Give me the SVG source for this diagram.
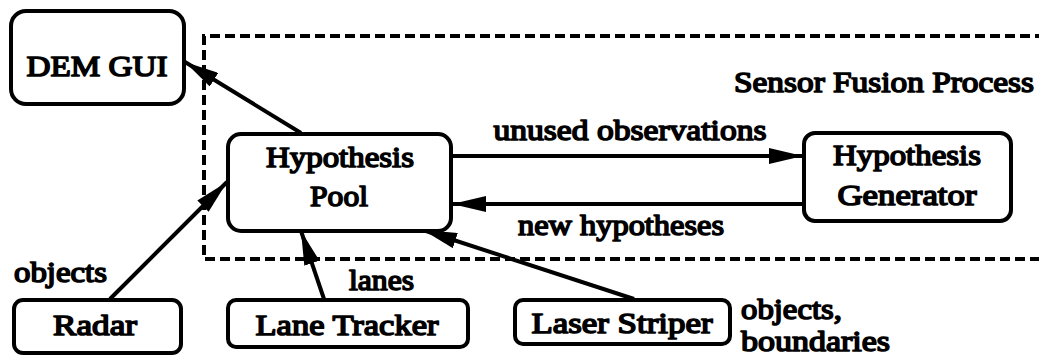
<svg xmlns="http://www.w3.org/2000/svg" width="1039" height="356" viewBox="0 0 1039 356">
<style>
.box{fill:#fff;stroke:#000;stroke-width:4}
text{font-family:'Liberation Serif','Times New Roman',Times,serif;font-weight:normal;font-size:30px;fill:#000;stroke:#000;stroke-width:1.6px;stroke-linejoin:round}
.c{text-anchor:middle}
.ln{stroke:#000;stroke-width:4;fill:none}
</style>
<defs>
<marker id="ah" viewBox="0 0 34 16" refX="34" refY="8" markerWidth="34" markerHeight="16" markerUnits="userSpaceOnUse" orient="auto">
<path d="M0,0 L34,8 L0,16 Z" fill="#000"/>
</marker>
</defs>
<rect x="0" y="0" width="1039" height="356" fill="#fff"/>
<g id="sensor-fusion-process">
<path d="M1045,36 H204 V259 H1045" fill="none" stroke="#000" stroke-width="4" stroke-dasharray="10,5"/>
<text x="1034" y="92" text-anchor="end" textLength="300" lengthAdjust="spacingAndGlyphs">Sensor Fusion Process</text>
</g>
<g id="connectors">
<line class="ln" x1="301" y1="133" x2="185" y2="62" marker-end="url(#ah)"/>
<line class="ln" x1="445" y1="156" x2="803" y2="156" marker-end="url(#ah)"/>
<line class="ln" x1="803" y1="204" x2="452" y2="204" marker-end="url(#ah)"/>
<line class="ln" x1="110" y1="299" x2="227" y2="182" marker-end="url(#ah)"/>
<line class="ln" x1="324" y1="299" x2="301" y2="231" marker-end="url(#ah)"/>
<line class="ln" x1="634" y1="299" x2="423" y2="230" marker-end="url(#ah)"/>
<text class="c" x="630" y="140" textLength="273" lengthAdjust="spacingAndGlyphs">unused observations</text>
<text class="c" x="621" y="235" textLength="206" lengthAdjust="spacingAndGlyphs">new hypotheses</text>
<text x="14" y="282" textLength="93" lengthAdjust="spacingAndGlyphs">objects</text>
<text x="349" y="290" textLength="65" lengthAdjust="spacingAndGlyphs">lanes</text>
<text x="741" y="319" textLength="101" lengthAdjust="spacingAndGlyphs">objects,</text>
<text x="741" y="351" textLength="149" lengthAdjust="spacingAndGlyphs">boundaries</text>
</g>
<g id="dem-gui">
<rect class="box" x="11" y="11" width="173" height="93" rx="15"/>
<text class="c" x="97" y="76" textLength="141" lengthAdjust="spacingAndGlyphs">DEM GUI</text>
</g>
<g id="hypothesis-pool">
<rect class="box" x="228" y="134" width="223" height="97" rx="13"/>
<text class="c" x="340" y="167" textLength="148" lengthAdjust="spacingAndGlyphs">Hypothesis</text>
<text class="c" x="339" y="206" textLength="58" lengthAdjust="spacingAndGlyphs">Pool</text>
</g>
<g id="hypothesis-generator">
<rect class="box" x="804" y="133" width="207" height="88" rx="11"/>
<text class="c" x="907" y="165" textLength="148" lengthAdjust="spacingAndGlyphs">Hypothesis</text>
<text class="c" x="907" y="205" textLength="139" lengthAdjust="spacingAndGlyphs">Generator</text>
</g>
<g id="radar">
<rect class="box" x="14" y="300" width="167" height="53" rx="9"/>
<text class="c" x="95" y="335" textLength="84" lengthAdjust="spacingAndGlyphs">Radar</text>
</g>
<g id="lane-tracker">
<rect class="box" x="228" y="300" width="240" height="47" rx="8"/>
<text class="c" x="347" y="335" textLength="183" lengthAdjust="spacingAndGlyphs">Lane Tracker</text>
</g>
<g id="laser-striper">
<rect class="box" x="515" y="300" width="215" height="44" rx="8"/>
<text class="c" x="622" y="333" textLength="181" lengthAdjust="spacingAndGlyphs">Laser Striper</text>
</g>
</svg>
